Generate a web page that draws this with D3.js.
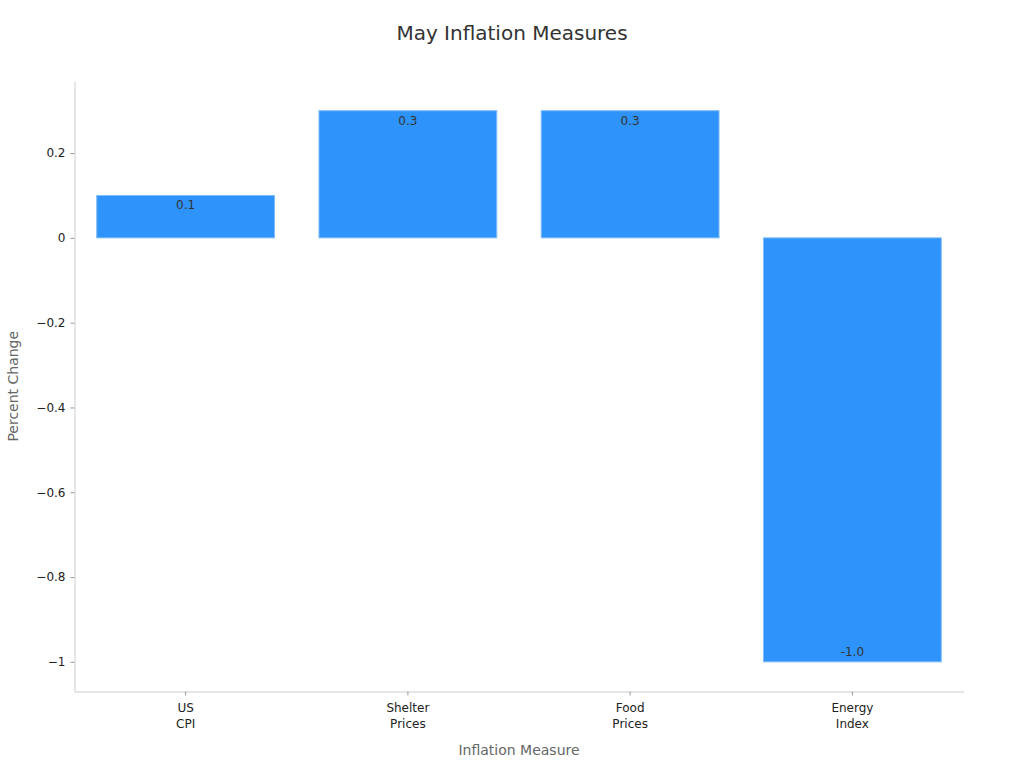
<!DOCTYPE html>
<html>
<head>
<meta charset="utf-8">
<script src="https://cdn.jsdelivr.net/npm/d3@7"></script>
<style>
  body { margin: 0; background: #fff; }
  svg { font-family: "DejaVu Sans", sans-serif; }
</style>
</head>
<body>
<div id="chart"></div>
<script>
const categories = [["US", "CPI"], ["Shelter", "Prices"], ["Food", "Prices"], ["Energy", "Index"]];
const values = [0.1, 0.3, 0.3, -1.0];
const yTicks = [0.2, 0, -0.2, -0.4, -0.6, -0.8, -1];

const width = 1024, height = 768;
const margin = { top: 81, right: 60.5, bottom: 76.5, left: 74.5 };

const svg = d3.select('#chart').append('svg')
  .attr('width', width)
  .attr('height', height);

const x = d3.scaleBand()
  .domain(d3.range(categories.length))
  .range([margin.left, width - margin.right])
  .paddingInner(0.2)
  .paddingOuter(0.1);

const y = d3.scaleLinear()
  .domain([-1.07, 0.37])
  .range([height - margin.bottom, margin.top]);

// bars
svg.append('g').selectAll('rect')
  .data(values)
  .enter().append('rect')
  .attr('x', (d, i) => x(i))
  .attr('width', x.bandwidth())
  .attr('y', d => y(Math.max(0, d)))
  .attr('height', d => Math.abs(y(d) - y(0)))
  .attr('fill', '#2e93fa')
  .attr('stroke', '#7fbcf7')
  .attr('stroke-width', 1);

// value labels
svg.append('g').selectAll('text')
  .data(values)
  .enter().append('text')
  .attr('x', (d, i) => x(i) + x.bandwidth() / 2)
  .attr('y', d => d >= 0 ? y(d) + 14 : y(d) - 6)
  .attr('text-anchor', 'middle')
  .attr('font-size', 12)
  .attr('fill', '#333')
  .text(d => d.toFixed(1));

// y axis
const yAxis = d3.axisLeft(y)
  .tickValues(yTicks)
  .tickFormat(d => d === 0 ? '0' : d3.format('.1f')(d).replace('-', '\u2212').replace(/\.0$/, ''))
  .tickSize(4)
  .tickSizeOuter(0)
  .tickPadding(5);

const gy = svg.append('g')
  .attr('transform', 'translate(' + margin.left + ',0)')
  .call(yAxis);
gy.select('.domain').attr('stroke', '#ccc');
gy.selectAll('.tick line').attr('stroke', '#999');
gy.selectAll('.tick text').attr('font-size', 12).attr('fill', '#222')
  .attr('font-family', '"DejaVu Sans", sans-serif');

// x axis
const xAxis = d3.axisBottom(x)
  .tickFormat('')
  .tickSize(4)
  .tickSizeOuter(0);

const gx = svg.append('g')
  .attr('transform', 'translate(0,' + (height - margin.bottom) + ')')
  .call(xAxis);
gx.select('.domain').attr('stroke', '#ccc');
gx.selectAll('.tick line').attr('stroke', '#999');
gx.selectAll('.tick').each(function (d) {
  const t = d3.select(this).append('text')
    .attr('text-anchor', 'middle')
    .attr('font-size', 12)
    .attr('fill', '#222')
    .attr('font-family', '"DejaVu Sans", sans-serif');
  categories[d].forEach((line, k) => {
    t.append('tspan').attr('x', 0).attr('y', 20 + k * 16).text(line);
  });
});

// titles
svg.append('text')
  .attr('x', width / 2)
  .attr('y', 40)
  .attr('text-anchor', 'middle')
  .attr('font-size', 20)
  .attr('fill', '#333')
  .text('May Inflation Measures');

svg.append('text')
  .attr('x', (margin.left + width - margin.right) / 2)
  .attr('y', 755)
  .attr('text-anchor', 'middle')
  .attr('font-size', 14)
  .attr('fill', '#666')
  .text('Inflation Measure');

svg.append('text')
  .attr('transform', 'translate(18,' + ((margin.top + height - margin.bottom) / 2) + ') rotate(-90)')
  .attr('text-anchor', 'middle')
  .attr('font-size', 14)
  .attr('fill', '#666')
  .text('Percent Change');
</script>
</body>
</html>
